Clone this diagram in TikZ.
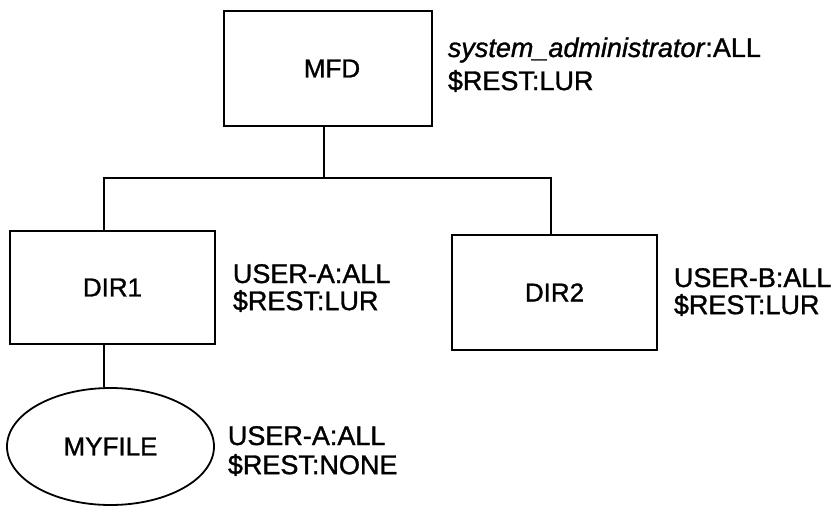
\documentclass[tikz,border=0pt]{standalone}
\usepackage{fontspec}
\setmainfont{Liberation Sans}[FakeBold=1.2]
\usetikzlibrary{shapes.geometric}
\begin{document}
\begin{tikzpicture}[x=1pt,y=-1pt,
  line width=1.8pt,
  boxnode/.style={draw, rectangle, inner sep=0pt, font=\fontsize{26}{26}\selectfont},
  filenode/.style={draw, ellipse, inner sep=0pt, font=\fontsize{26}{26}\selectfont},
  aclnode/.style={anchor=base west, inner sep=0pt, align=left, font=\fontsize{27}{27}\selectfont}]
\useasboundingbox (0,0) rectangle (835,508);
% nodes
\node[boxnode, minimum width=208pt, minimum height=115pt] (mfd) at (328,68.5) {\hspace*{8pt}MFD};
\node[boxnode, minimum width=205pt, minimum height=113pt] (dir1) at (112.5,287.5) {DIR1};
\node[boxnode, minimum width=205pt, minimum height=115pt] (dir2) at (554.5,292.5) {DIR2};
\node[filenode, minimum width=207pt, minimum height=117pt] (myfile) at (110.5,446.5) {MYFILE};
% labels
\node[aclnode] (mfdacl) at (447,57) {\begin{tabular}[t]{@{}l@{}}\textit{system\_administrator}:ALL\\[5pt]\$REST:LUR\end{tabular}};
\node[aclnode] (dir1acl) at (232,283) {\begin{tabular}[t]{@{}l@{}}USER-A:ALL\\[-1pt]\$REST:LUR\end{tabular}};
\node[aclnode] (dir2acl) at (673,287) {\begin{tabular}[t]{@{}l@{}}USER-B:ALL\\[-1pt]\$REST:LUR\end{tabular}};
\node[aclnode] (fileacl) at (227,445) {\begin{tabular}[t]{@{}l@{}}USER-A:ALL\\[1pt]\$REST:NONE\end{tabular}};
% connectors
\draw ([xshift=-4pt]mfd.south) -- ++(0,51) coordinate (j);
\draw ([xshift=-8.5pt]dir1.north) |- (j) -| ([xshift=-3.5pt]dir2.north);
\draw ([xshift=-8.5pt]dir1.south) -- ([xshift=-8.5pt]dir1.south |- myfile.north);
\end{tikzpicture}
\end{document}
